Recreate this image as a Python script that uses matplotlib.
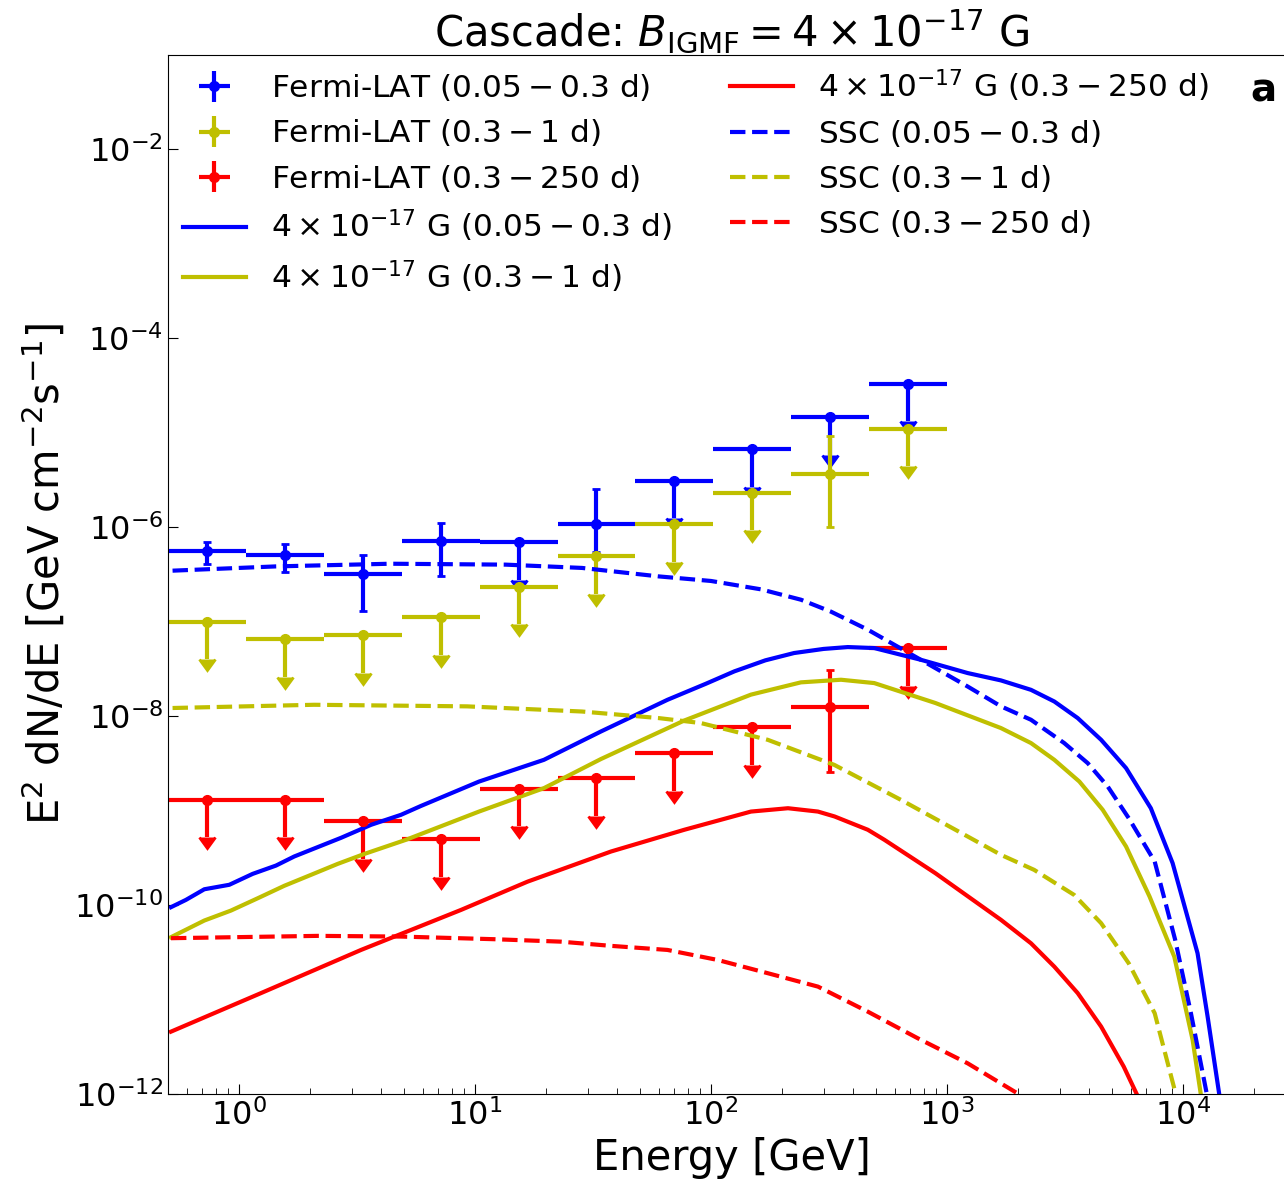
# -*- coding: utf-8 -*-
"""
Cascade spectra for B_IGMF = 4e-17 G with Fermi-LAT points and SSC models
"""

# %% Init
import numpy as np
import matplotlib
matplotlib.use('Agg')
import matplotlib.pyplot as plt

# %% Fermi-LAT data (energy bins in GeV, E^2 dN/dE in GeV cm^-2 s^-1)
E_edges = np.array([0.5, 1.07, 2.29, 4.89, 10.5, 22.4, 47.8, 102, 219, 468, 1000])
E_cen = np.array([0.73, 1.57, 3.35, 7.15, 15.3, 32.7, 69.9, 149, 320, 684])

# 0.05 - 0.3 d
lat1_y = np.array([5.56e-7, 5.04e-7, 3.2e-7, 7.1e-7, 6.92e-7, 1.08e-6,
                   3.12e-6, 6.75e-6, 1.46e-5, 3.3e-5])
lat1_hi = np.array([6.92e-7, 6.7e-7, 5.04e-7, 1.12e-6, 0, 2.55e-6, 0, 0, 0, 0])
lat1_lo = np.array([4.11e-7, 3.33e-7, 1.31e-7, 3.02e-7, 0, 5.47e-7, 0, 0, 0, 0])
lat1_ul = np.array([0, 0, 0, 0, 1, 0, 1, 1, 1, 1], dtype=bool)

# 0.3 - 1 d
lat2_y = np.array([1.0e-7, 6.56e-8, 7.23e-8, 1.11e-7, 2.35e-7, 4.96e-7,
                   1.07e-6, 2.31e-6, 3.7e-6, 1.11e-5])
lat2_hi = np.array([0, 0, 0, 0, 0, 0, 0, 0, 9.18e-6, 0])
lat2_lo = np.array([0, 0, 0, 0, 0, 0, 0, 0, 9.98e-7, 0])
lat2_ul = np.array([1, 1, 1, 1, 1, 1, 1, 1, 0, 1], dtype=bool)

# 0.3 - 250 d
lat3_y = np.array([1.3e-9, 1.3e-9, 7.67e-10, 4.99e-10, 1.7e-9, 2.21e-9,
                   4.06e-9, 7.67e-9, 1.25e-8, 5.21e-8])
lat3_hi = np.array([0, 0, 0, 0, 0, 0, 0, 0, 3.1e-8, 0])
lat3_lo = np.array([0, 0, 0, 0, 0, 0, 0, 0, 2.56e-9, 0])
lat3_ul = np.array([1, 1, 1, 1, 1, 1, 1, 1, 0, 1], dtype=bool)

# %% Model curves
casc1_E = [0.515, 0.596, 0.713, 0.91, 1.143, 1.435, 1.715, 2.02, 2.71, 3.63, 4.86,
           5.9, 10.4, 19.6, 34.2, 65.4, 95, 125.6, 170, 225, 300, 380, 492, 776,
           1224, 1694, 2270, 2850, 3580, 4500, 5740, 7310, 9040, 11530, 12720,
           14260]
casc1_y = [9.5e-11, 1.135e-10, 1.47e-10, 1.64e-10, 2.14e-10, 2.62e-10, 3.27e-10,
           3.85e-10, 5.16e-10, 7.08e-10, 9.03e-10, 1.12e-9, 2.03e-9, 3.45e-9,
           6.89e-9, 1.49e-8, 2.2e-8, 2.98e-8, 3.9e-8, 4.66e-8, 5.15e-8, 5.39e-8,
           5.26e-8, 3.95e-8, 2.86e-8, 2.39e-8, 1.9e-8, 1.43e-8, 9.55e-9, 5.62e-9,
           2.82e-9, 1.06e-9, 2.78e-10, 3.09e-11, 6.59e-12, 9.8e-13]

casc2_E = [0.515, 0.713, 0.925, 1.2, 1.556, 2.02, 2.62, 3.4, 5.1, 10.4, 19.6, 34.2,
           77.1, 147.7, 240.5, 355.5, 492, 892, 1694, 2270, 2850, 3640, 4570, 5740,
           7220, 9190, 10990, 11910]
casc2_y = [4.57e-11, 6.86e-11, 8.75e-11, 1.18e-10, 1.6e-10, 2.09e-10, 2.73e-10,
           3.48e-10, 4.91e-10, 9.77e-10, 1.73e-9, 3.52e-9, 9.0e-9, 1.69e-8, 2.28e-8,
           2.43e-8, 2.24e-8, 1.38e-8, 7.48e-9, 5.19e-9, 3.45e-9, 2.03e-9, 1.02e-9,
           4.17e-10, 1.23e-10, 2.84e-11, 3.73e-12, 9.8e-13]

casc3_E = [0.515, 1.24, 3.29, 8.73, 16.7, 37.7, 77.1, 147.7, 212, 284, 334, 462,
           543, 892, 1694, 2270, 2850, 3580, 4500, 5610, 6390]
casc3_y = [4.57e-12, 1.17e-11, 3.35e-11, 8.89e-11, 1.77e-10, 3.69e-10, 6.27e-10,
           9.77e-10, 1.06e-9, 9.77e-10, 8.67e-10, 6.27e-10, 4.91e-10, 2.18e-10,
           6.97e-11, 3.94e-11, 2.23e-11, 1.17e-11, 5.17e-12, 1.95e-12, 9.8e-13]

ssc1_E = [0.523, 1.432, 4.39, 13.5, 28.4, 59.9, 100, 163, 240.5, 322, 462, 752,
          1224, 1694, 2270, 3140, 3950, 4800, 5890, 7590, 9270, 10810, 12640]
ssc1_y = [3.47e-7, 3.85e-7, 4.11e-7, 4.02e-7, 3.71e-7, 3.02e-7, 2.7e-7, 2.2e-7,
          1.71e-7, 1.28e-7, 8.23e-8, 4.12e-8, 2.06e-8, 1.27e-8, 9.16e-9, 5.19e-9,
          3.18e-9, 1.8e-9, 8.33e-10, 2.89e-10, 4.28e-11, 7.16e-12, 9.8e-13]

ssc2_E = [0.523, 2.08, 9.25, 28.4, 59.9, 90.7, 174, 333, 638, 1224, 1694, 2340,
          3460, 4500, 5890, 7590, 9340]
ssc2_y = [1.22e-8, 1.32e-8, 1.27e-8, 1.12e-8, 9.55e-9, 8.45e-9, 5.62e-9, 3.05e-9,
          1.3e-9, 5.32e-10, 3.4e-10, 2.36e-10, 1.28e-10, 6.43e-11, 2.42e-11,
          7.16e-12, 9.8e-13]

ssc3_E = [0.515, 2.16, 4.86, 12.1, 23.1, 37.7, 65.4, 107, 174, 284, 462, 752,
          1224, 2010]
ssc3_y = [4.46e-11, 4.72e-11, 4.64e-11, 4.35e-11, 4.1e-11, 3.7e-11, 3.35e-11,
          2.62e-11, 1.9e-11, 1.37e-11, 7.44e-12, 3.89e-12, 2.11e-12, 1.0e-12]

# %% Plot
fig = plt.figure(figsize=(12.84, 11.8), dpi=100)
ax = fig.add_axes([0.1308, 0.0729, 0.8782, 0.8805])

xerr = np.vstack([E_cen - E_edges[:-1], E_edges[1:] - E_cen])


def lat_points(y, hi, lo, ul, color, label):
    ylow = np.where(ul, 0.6*y, y - lo)
    yhigh = np.where(ul, 0.0, hi - y)
    eb = ax.errorbar(E_cen, y, xerr=xerr, yerr=[ylow, yhigh], uplims=ul,
                     fmt='o', color=color, ms=7, elinewidth=3, capsize=5.5,
                     capthick=2, label=label)
    # small caps on the vertical bars, none on the bins, big carets for limits
    for cl in eb[1]:
        if cl.get_marker() == '_':
            cl.set_markersize(6)
        elif cl.get_marker() == '|':
            cl.set_visible(False)
    return eb


eb1 = lat_points(lat1_y, lat1_hi, lat1_lo, lat1_ul, 'b', r'Fermi-LAT ($0.05-0.3$ d)')
eb2 = lat_points(lat2_y, lat2_hi, lat2_lo, lat2_ul, 'y', r'Fermi-LAT ($0.3-1$ d)')
eb3 = lat_points(lat3_y, lat3_hi, lat3_lo, lat3_ul, 'r', r'Fermi-LAT ($0.3-250$ d)')

lab = r'$4\times10^{-17}$ G '
l1, = ax.plot(casc1_E, casc1_y, 'b-', lw=3, label=lab + r'($0.05-0.3$ d)')
l2, = ax.plot(casc2_E, casc2_y, 'y-', lw=3, label=lab + r'($0.3-1$ d)')
l3, = ax.plot(casc3_E, casc3_y, 'r-', lw=3, label=lab + r'($0.3-250$ d)')
s1, = ax.plot(ssc1_E, ssc1_y, 'b--', lw=3, label=r'SSC ($0.05-0.3$ d)')
s2, = ax.plot(ssc2_E, ssc2_y, 'y--', lw=3, label=r'SSC ($0.3-1$ d)')
s3, = ax.plot(ssc3_E, ssc3_y, 'r--', lw=3, label=r'SSC ($0.3-250$ d)')

ax.set_xscale('log')
ax.set_yscale('log')
ax.set_xlim(0.5, 3e4)
ax.set_ylim(1e-12, 1e-1)
ax.tick_params(which='both', direction='in', labelsize=23, top=False, right=False)
ax.tick_params(which='major', length=7)
ax.tick_params(which='minor', length=4)
ax.spines['right'].set_visible(False)

ax.set_xlabel('Energy [GeV]', fontsize=30)
ax.set_ylabel(r'E$^2$ dN/dE [GeV cm$^{-2}$s$^{-1}$]', fontsize=30)
ax.set_title(r'Cascade: $B_{\rm IGMF} = 4\times10^{-17}$ G', fontsize=30)
fig.text(1276/1284, 1 - 90/1180, 'a', fontsize=28, fontweight='bold',
         ha='right', va='center')

hands = [eb1, eb2, eb3, l1, l2, l3, s1, s2, s3]
ax.legend(handles=hands, loc='upper left', bbox_to_anchor=(-0.006, 1.009), ncol=2,
          fontsize=22.5, frameon=False, handlelength=2.0, labelspacing=0.45,
          columnspacing=1.9, borderaxespad=0.3)

fig.savefig('out.png', dpi=100)
